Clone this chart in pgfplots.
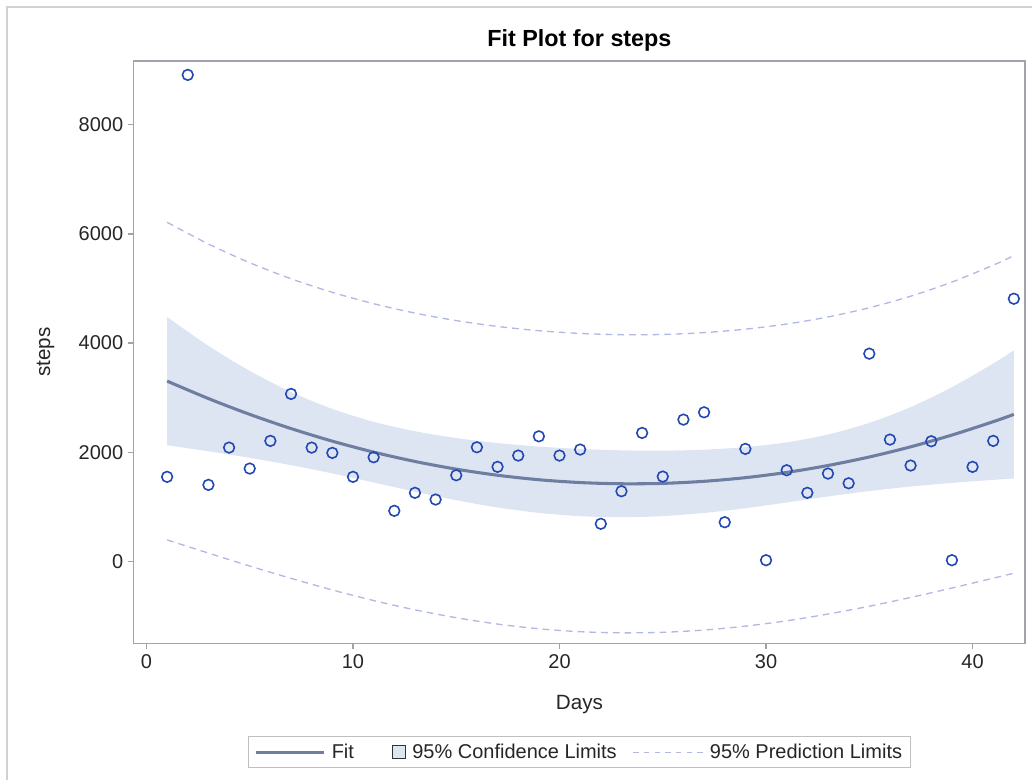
\documentclass[border=0pt]{standalone}
\usepackage{fontspec}
\setmainfont{Liberation Sans}
\usepackage{pgfplots}
\pgfplotsset{compat=1.18}
\usepgfplotslibrary{fillbetween}
\usepackage{pgfplotstable}

\definecolor{fitcol}{RGB}{110,126,160}
\definecolor{cifill}{RGB}{221,229,242}
\definecolor{predcol}{RGB}{178,184,228}
\definecolor{markcol}{RGB}{35,72,178}
\definecolor{framecol}{RGB}{160,164,170}

% observed steps per day
\pgfplotstableread{
day steps
1 1548
2 8916
3 1401
4 2084
5 1700
6 2207
7 3068
8 2084
9 1987
10 1548
11 1907
12 925
13 1255
14 1132
15 1577
16 2090
17 1731
18 1938
19 2291
20 1938
21 2048
22 687
23 1284
24 2353
25 1553
26 2597
27 2731
28 716
29 2060
30 20
31 1669
32 1255
33 1608
34 1430
35 3806
36 2231
37 1755
38 2200
39 20
40 1731
41 2207
42 4813
}\obs

% fit, confidence and prediction limits
\pgfplotstableread{
x fit cil ciu pil piu
1 3303 2128 4478 392 6214
3 2983 2016 3950 150 5816
5 2693 1896 3490 -87 5473
7 2433 1762 3104 -313 5179
9 2202 1611 2793 -526 4930
11 2001 1445 2557 -720 4722
13 1830 1276 2384 -890 4550
15 1689 1119 2259 -1034 4412
17 1577 986 2168 -1151 4305
19 1495 887 2103 -1237 4227
21 1443 827 2059 -1291 4177
23 1421 808 2034 -1312 4154
25 1428 828 2028 -1302 4158
27 1466 886 2046 -1260 4192
29 1533 973 2093 -1189 4255
31 1629 1078 2180 -1091 4349
33 1756 1188 2324 -967 4479
35 1912 1287 2537 -824 4648
37 2098 1370 2826 -663 4859
39 2314 1437 3191 -490 5118
41 2559 1492 3626 -310 5428
42 2693 1518 3868 -218 5604
}\band

\begin{document}
\begin{tikzpicture}
\begin{axis}[
    at={(100.5pt,-483pt)}, anchor=south west,
    width=669pt, height=437.25pt, scale only axis,
    xmin=-0.61, xmax=42.54,
    ymin=-1505, ymax=9172,
    xtick={0,10,20,30,40},
    ytick={0,2000,4000,6000,8000},
    /pgf/number format/set thousands separator={},
    /pgf/number format/assume math mode=true,
    tick align=outside, xtick pos=left, ytick pos=left,
    major tick length=4.5pt,
    axis line style={framecol, line width=0.9pt},
    every tick/.style={framecol, line width=0.9pt},
    tick label style={font=\fontsize{15}{18}\selectfont, text=black!85},
    title={Fit Plot for steps},
    title style={font=\bfseries\fontsize{17.5}{20}\selectfont, at={(axis description cs:0.5,1)}, anchor=south, yshift=-2pt},
    xlabel={Days},
    ylabel={steps},
    label style={font=\fontsize{15.5}{18}\selectfont, text=black!85},
    xlabel style={at={(axis description cs:0.5,-0.105)}, anchor=center},
    ylabel style={at={(axis description cs:-0.099,0.5)}, anchor=center},
    legend columns=3,
    legend style={at={(axis description cs:0.5,-0.1595)}, anchor=north,
        draw=black!25, line width=0.8pt, font=\fontsize{15}{18}\selectfont,
        text=black!85, inner xsep=4pt, inner ysep=3.5pt,
        /tikz/every odd column/.append style={column sep=3pt},
        /tikz/every even column/.append style={column sep=10pt}},
]
\addplot[name path=ciu, draw=none, smooth, forget plot] table[x=x, y=ciu] {\band};
\addplot[name path=cil, draw=none, smooth, forget plot] table[x=x, y=cil] {\band};
\addplot[cifill, forget plot] fill between[of=ciu and cil];

\addplot[predcol, line width=1pt, dash pattern=on 5pt off 3.8pt, smooth, forget plot] table[x=x, y=piu] {\band};
\addplot[predcol, line width=1pt, dash pattern=on 5pt off 3.8pt, smooth, forget plot] table[x=x, y=pil] {\band};

\addplot[fitcol, line width=2.3pt, smooth, forget plot] table[x=x, y=fit] {\band};

\addplot[only marks, mark=o, mark size=4pt, mark options={markcol, line width=1.2pt}, forget plot] table[x=day, y=steps] {\obs};

\addlegendimage{legend image code/.code={\draw[fitcol, line width=2.3pt] (0pt,0pt) -- (51pt,0pt);}}
\addlegendentry{Fit}
\addlegendimage{legend image code/.code={\path[draw=none] (-17pt,0pt) -- (9.5pt,0pt);
    \draw[fill=cifill, draw=black!80, line width=0.7pt] (0pt,-4.6pt) rectangle (9.5pt,4.9pt);}}
\addlegendentry{95\% Confidence Limits}
\addlegendimage{legend image code/.code={\draw[predcol, line width=1pt, dash pattern=on 4pt off 4pt] (0pt,0pt) -- (52pt,0pt);}}
\addlegendentry{95\% Prediction Limits}
\end{axis}
\path (0pt,0pt) rectangle (774.75pt,-585.75pt);
\draw[black!18, line width=1.5pt] (5.6pt,-585.75pt) |- (774.75pt,-4.9pt);
\end{tikzpicture}
\end{document}
